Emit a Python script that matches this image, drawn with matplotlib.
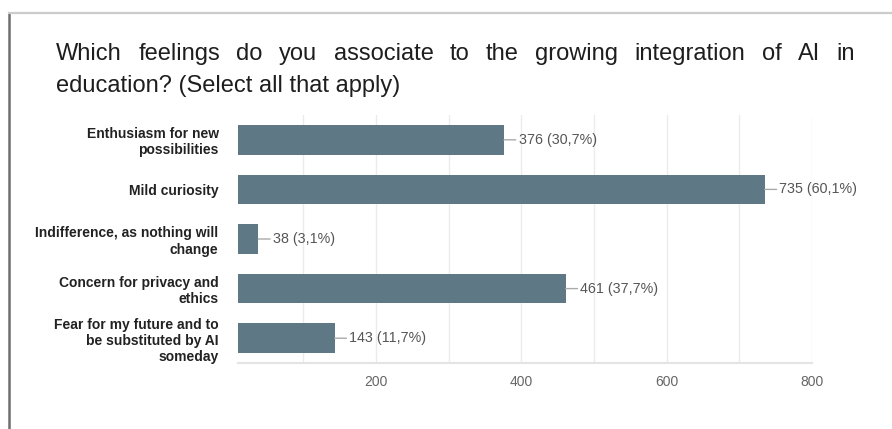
import matplotlib
matplotlib.use('Agg')
import matplotlib.pyplot as plt
from matplotlib.lines import Line2D

plt.rcParams['font.family'] = ['Liberation Sans', 'DejaVu Sans']

categories = [
    "Enthusiasm for new\npossibilities",
    "Mild curiosity",
    "Indifference, as nothing will\nchange",
    "Concern for privacy and\nethics",
    "Fear for my future and to\nbe substituted by AI\nsomeday",
]
counts = [376, 735, 38, 461, 143]
percents = ["30,7", "60,1", "3,1", "37,7", "11,7"]
major_ticks = [200, 400, 600, 800]
minor_ticks = [100, 300, 500, 700]

title_line1 = "Which feelings do you associate to the growing integration of AI in"
title_line2 = "education? (Select all that apply)"

W, H = 892, 429
fig = plt.figure(figsize=(W / 100, H / 100), dpi=100)

# plot area in pixels: x 238..812, y 115..363
ax = fig.add_axes([238 / W, 1 - 363 / H, (812 - 238) / W, (363 - 115) / H])

bar_color = '#5f7886'
ypos = list(range(len(categories)))
ax.barh(ypos, counts, height=0.6, color=bar_color, zorder=3)
ax.set_ylim(len(categories) - 0.5, -0.5)
ax.set_xlim(10, 800)

ax.set_yticks(ypos)
ax.set_yticklabels(categories, fontsize=10, fontweight='bold', color='#222222')
ax.set_xticks(major_ticks)
ax.set_xticks(minor_ticks, minor=True)
ax.tick_params(axis='x', which='both', length=0, pad=9, labelsize=10, labelcolor='#666666')
ax.tick_params(axis='y', length=0, pad=14)
ax.grid(True, axis='x', which='both', color='#ebebeb', lw=1, zorder=0)

for s in ['left', 'right', 'top']:
    ax.spines[s].set_visible(False)
ax.spines['bottom'].set_color('#e4e4e4')
ax.spines['bottom'].set_linewidth(1.5)

# value labels with short leader lines
for y, c, p in zip(ypos, counts, percents):
    ax.annotate(f"{c} ({p}%)", xy=(c, y), xytext=(10.5, 0), textcoords='offset points',
                ha='left', va='center', fontsize=10.3, color='#555555',
                arrowprops=dict(arrowstyle='-', color='#aaaaaa', lw=1,
                                shrinkA=0, shrinkB=0, relpos=(0, 0.5)),
                zorder=4)

# frame lines around the card
fig.add_artist(Line2D([9 / W, 9 / W], [1 - 13 / H, 0], color='#6e6e6e', lw=1.8))
fig.add_artist(Line2D([9 / W, 1], [1 - 13 / H, 1 - 13 / H], color='#cccccc', lw=1.6))

# title, first line spread out to full width
title_kw = dict(fontsize=17, color='#1e1e1e', va='baseline', ha='left')
x0, x1 = 56, 855
renderer = fig.canvas.get_renderer()
words = title_line1.split()
texts = [fig.text(0, 1 - 60 / H, w, **title_kw) for w in words]
widths = [t.get_window_extent(renderer).width for t in texts]
gap = (x1 - x0 - sum(widths)) / (len(words) - 1)
x = x0
for t, w in zip(texts, widths):
    t.set_x(x / W)
    x += w + gap
fig.text(x0 / W, 1 - 92 / H, title_line2, **title_kw)

fig.savefig('out.png', dpi=100)
